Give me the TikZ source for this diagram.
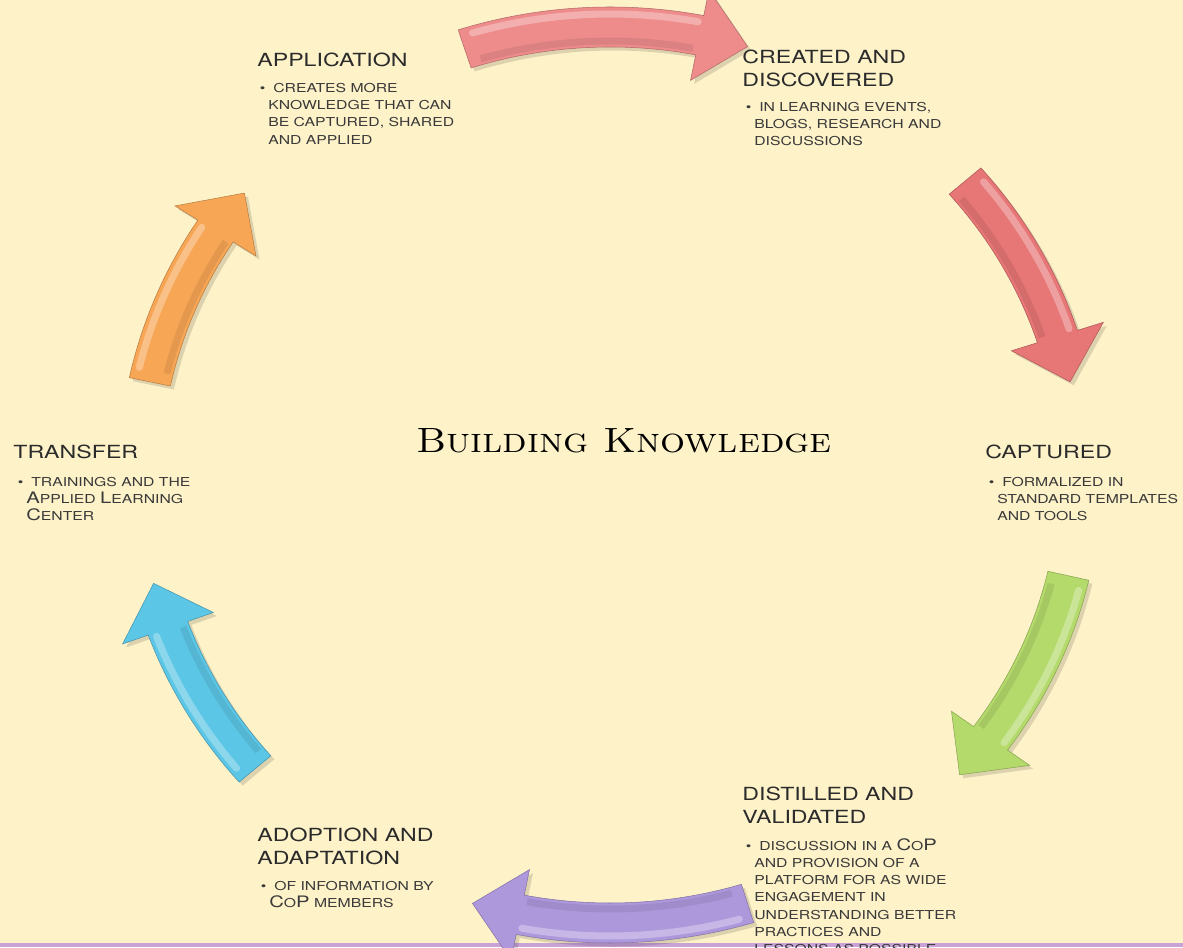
\documentclass[tikz,border=0pt]{standalone}
\usepackage{fontspec}
\usepackage{graphicx}
\newfontfamily\cpfont[FakeStretch=1.28]{TeX Gyre Heros}
\usetikzlibrary{calc,positioning}
\definecolor{paper}{HTML}{FEF2C9}
\definecolor{headtext}{HTML}{2B2B2B}
\definecolor{bodytext}{HTML}{3A3A3A}
\definecolor{arrowpink}{HTML}{EE8C8C}
\definecolor{arrowred}{HTML}{E77676}
\definecolor{arrowgreen}{HTML}{B5DA6C}
\definecolor{arrowpurple}{HTML}{AE98DC}
\definecolor{arrowblue}{HTML}{5CC6E6}
\definecolor{arroworange}{HTML}{F7A655}
\definecolor{rimline}{HTML}{C9A2D8}
\newcommand{\capl}[1]{{\fontsize{9}{9.8}\selectfont #1}}
\newcommand{\bul}{\llap{\textbullet\hspace{1.7pt}}\hspace{2.8pt}}

\begin{document}
\begin{tikzpicture}[x=0.02cm, y=0.02cm,
  head/.style={font=\cpfont\fontsize{10.3}{12.6}\selectfont, text=headtext, anchor=north west, inner sep=0pt, align=left},
  body/.style={font=\cpfont\fontsize{7}{9.8}\selectfont, text=bodytext, anchor=north west, inner sep=0pt, align=left},
  cyc/.style={fill=#1, draw=#1!75!black, line width=0.3pt, preaction={fill=black, fill opacity=.13, transform canvas={shift={(2pt,-2pt)}}}},
  gloss/.style={white, opacity=.3, line width=4pt, line cap=round},
  dim/.style={black, opacity=.08, line width=4pt}]
\fill[paper] (0,0) rectangle (1183,947);
\useasboundingbox (0,0) rectangle (1183,947);
\draw[rimline, line width=2pt] (0,2) -- (1183,2);

% cycle arrows
\begin{scope}[shift={(610,472)}, xscale=1.05]
\foreach \sa/\ea/\col in {108/73/arrowpink, 41/12/arrowred, -13/-42/arrowgreen, -73/-107/arrowpurple, -139/-166/arrowblue, 168/141/arroworange}{
  \pgfmathsetmacro{\hb}{\ea+6}
  \path[cyc=\col] (\sa:468) arc[start angle=\sa, end angle=\hb, radius=468]
    -- (\hb:494) -- (\ea:448) -- (\hb:402) -- (\hb:428)
    arc[start angle=\hb, end angle=\sa, radius=428] -- cycle;
  \draw[gloss] (\sa-1.5:461) arc[start angle=\sa-1.5, end angle=\hb+0.5, radius=461];
  \draw[dim] (\sa-1.5:434) arc[start angle=\sa-1.5, end angle=\hb+0.5, radius=434];
}
\end{scope}

\node (title) at (624,506) {\scalebox{1.12}[1]{\fontsize{20}{20}\selectfont\scshape Building Knowledge}};

% stages
\node[head] (appl) at (257,894) {APPLICATION};
\node[body] (applText) at (268,864) {\bul CREATES MORE\\ KNOWLEDGE THAT CAN\\ BE CAPTURED, SHARED\\ AND APPLIED};

\node[head] (created) at (742,897) {CREATED AND\\ DISCOVERED};
\node[body] (createdText) at (754,845) {\bul IN LEARNING EVENTS,\\ BLOGS, RESEARCH AND\\ DISCUSSIONS};

\node[head] (captured) at (985,502) {CAPTURED};
\node[body] (capturedText) at (997,470) {\bul FORMALIZED IN\\ STANDARD TEMPLATES\\ AND TOOLS};

\node[head] (transfer) at (13,502) {TRANSFER};
\node[body] (transferText) at (26,470) {\bul TRAININGS AND THE\\ \capl{A}PPLIED \capl{L}EARNING\\ \capl{C}ENTER};

\node[head] (distilled) at (742,160) {DISTILLED AND\\ VALIDATED};
\node[body] (distilledText) at (754,109) {\bul DISCUSSION IN A \capl{C}O\capl{P}\\ AND PROVISION OF A\\ PLATFORM FOR AS WIDE\\ ENGAGEMENT IN\\ UNDERSTANDING BETTER\\ PRACTICES AND\\ LESSONS AS POSSIBLE};

\node[head] (adoption) at (257,119) {ADOPTION AND\\ ADAPTATION};
\node[body] (adoptionText) at (269,66) {\bul OF INFORMATION BY\\ \capl{C}O\capl{P} MEMBERS};
\end{tikzpicture}
\end{document}
